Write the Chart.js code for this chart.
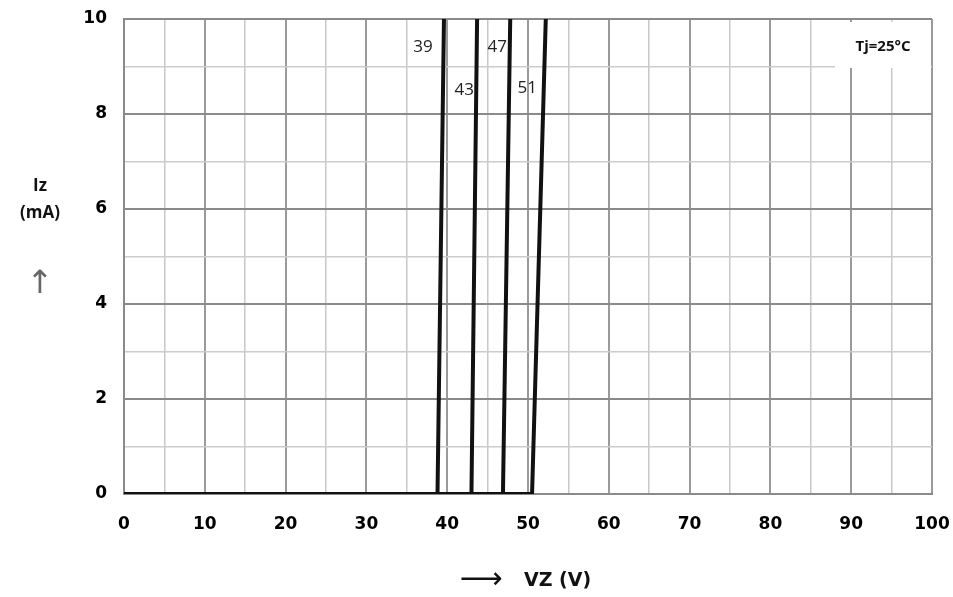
<!DOCTYPE html>
<html>
<head>
<meta charset="utf-8">
<script src="https://cdn.jsdelivr.net/npm/chart.js@4.4.1/dist/chart.umd.min.js"></script>
<style>
html,body{margin:0;padding:0;background:#fff;}
#wrap{width:953px;height:597px;position:relative;}
</style>
</head>
<body>
<div id="wrap"><canvas id="c" width="953" height="597"></canvas></div>
<script>
// ---- data ----
const seriesNames = ['39', '43', '47', '51'];
const vz39 = [0, 38.8, 39.6];
const iz39 = [0, 0, 10];
const vz43 = [0, 43.0, 43.7];
const iz43 = [0, 0, 10];
const vz47 = [0, 46.9, 47.8];
const iz47 = [0, 0, 10];
const vz51 = [0, 50.5, 52.2];
const iz51 = [0, 0, 10];
// curve label anchor points (data units)
const labelVz = [37.0, 42.1, 46.2, 49.9];
const labelIz = [9.4, 8.5, 9.4, 8.55];
const xTickLabels = ['0','10','20','30','40','50','60','70','80','90','100'];
const yTickLabels = ['0','2','4','6','8','10'];
const tempNote = 'Tj=25°C';

function pts(xs, ys){ return xs.map((x,i)=>({x:x, y:ys[i]})); }
const allVz = [vz39, vz43, vz47, vz51];
const allIz = [iz39, iz43, iz47, iz51];

const datasets = seriesNames.map((n,i)=>({
  label: n,
  data: pts(allVz[i], allIz[i]),
  borderColor: '#111',
  borderWidth: 4,
  pointRadius: 0,
  tension: 0,
  fill: false
}));

const overlay = {
  id: 'overlay',
  afterDatasetsDraw(chart){
    const ctx = chart.ctx, xs = chart.scales.x, ys = chart.scales.y, ca = chart.chartArea;
    ctx.save();
    // curve labels
    ctx.fillStyle = '#222';
    ctx.font = '17px "Open Sans", "DejaVu Sans", sans-serif';
    ctx.textAlign = 'center'; ctx.textBaseline = 'middle';
    seriesNames.forEach((n,i)=>{
      ctx.fillText(n, xs.getPixelForValue(labelVz[i]), ys.getPixelForValue(labelIz[i]));
    });
    // Tj box
    const bx = ca.right - 97, by = ca.top + 3, bw = 96, bh = 46;
    ctx.fillStyle = '#fff';
    ctx.fillRect(bx, by, bw, bh);
    ctx.fillStyle = '#111';
    ctx.font = 'bold 15px "Open Sans", "DejaVu Sans", sans-serif';
    ctx.fillText(tempNote, bx + bw/2, by + bh/2 + 2);
    // y-axis title
    ctx.font = 'bold 17px "Open Sans", "DejaVu Sans", sans-serif';
    ctx.fillStyle = '#111';
    ctx.fillText('Iz', 40, 186);
    ctx.fillText('(mA)', 40, 213);
    ctx.fillStyle = '#666';
    ctx.font = '32px "DejaVu Sans", sans-serif';
    ctx.fillText('↑', 40, 285);
    // x-axis title
    ctx.fillStyle = '#111';
    ctx.font = '30px "DejaVu Sans", sans-serif';
    ctx.fillText('⟶', 481, 580);
    ctx.font = 'bold 19px "DejaVu Sans", sans-serif';
    ctx.textAlign = 'left';
    ctx.fillText('VZ (V)', 524, 581);
    ctx.restore();
  }
};

new Chart(document.getElementById('c'), {
  type: 'line',
  data: { datasets },
  options: {
    responsive: false,
    animation: false,
    layout: { padding: { top: 19, right: 21, left: 0, bottom: 0 } },
    plugins: { legend: { display: false }, tooltip: { enabled: false } },
    scales: {
      x: {
        type: 'linear', min: 0, max: 100,
        afterFit(s){ s.height = 103; s.paddingLeft = 0; s.paddingRight = 0; },
        ticks: {
          stepSize: 5, autoSkip: false, maxRotation: 0, padding: 20,
          color: '#000',
          font: { family: '"DejaVu Sans", sans-serif', weight: 'bold', size: 17 },
          callback(v){ return (v % 10 === 0) ? xTickLabels[v/10] : ''; }
        },
        grid: {
          drawTicks: false,
          color(c){ const v = c.tick.value; return v % 10 === 0 ? '#9a9a9a' : '#c8c8c8'; },
          lineWidth(c){ const v = c.tick.value; return v % 10 === 0 ? 2 : 1.5; }
        },
        border: { color: '#8a8a8a', width: 2 }
      },
      y: {
        type: 'linear', min: 0, max: 10,
        afterFit(s){ s.width = 124; s.paddingTop = 0; s.paddingBottom = 0; },
        ticks: {
          stepSize: 1, autoSkip: false, padding: 17,
          color: '#000',
          font: { family: '"DejaVu Sans", sans-serif', weight: 'bold', size: 17 },
          callback(v){ return (v % 2 === 0) ? yTickLabels[v/2] : ''; }
        },
        grid: {
          drawTicks: false,
          color(c){ const v = c.tick.value; return v % 2 === 0 ? '#8a8a8a' : '#cccccc'; },
          lineWidth(c){ const v = c.tick.value; return v % 2 === 0 ? 2 : 1.5; }
        },
        border: { color: '#8a8a8a', width: 2 }
      }
    }
  },
  plugins: [overlay]
});
</script>
</body>
</html>
